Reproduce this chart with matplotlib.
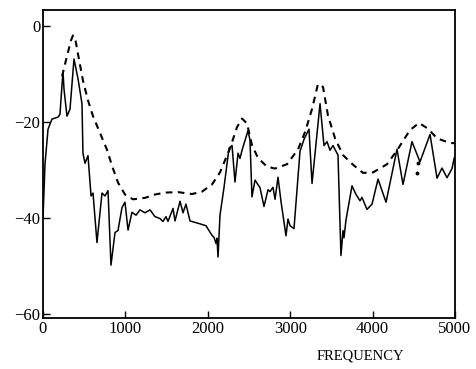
import numpy as np
import matplotlib
matplotlib.use("Agg")
import matplotlib.pyplot as plt

# ---------- data ----------
# measured response (solid)
freq_meas = [0, 24, 61, 109, 182, 206, 231, 243, 255, 291, 328, 376, 425, 473,
             485, 510, 546, 583, 607, 655, 716, 752, 789, 825, 874, 910, 959,
             995, 1032, 1080, 1129, 1177, 1238, 1299, 1359, 1420, 1456, 1493,
             1517, 1578, 1602, 1663, 1699, 1735, 1784, 1905, 1978, 2051, 2075,
             2100, 2112, 2124, 2148, 2197, 2257, 2294, 2330, 2367, 2391, 2415,
             2488, 2512, 2536, 2573, 2634, 2682, 2731, 2755, 2791, 2816, 2852,
             2888, 2949, 2973, 2998, 3046, 3119, 3168, 3228, 3265, 3362, 3410,
             3447, 3483, 3519, 3580, 3616, 3641, 3653, 3677, 3750, 3799, 3847,
             3871, 3932, 3993, 4066, 4163, 4296, 4369, 4478, 4575, 4697, 4782,
             4842, 4903, 4964, 4990]
db_meas = [-40.0, -28.8, -21.5, -19.4, -19.0, -18.4, -12.2, -9.7, -13.2, -18.8,
           -17.3, -6.9, -11.0, -16.2, -26.5, -28.6, -27.0, -35.4, -34.8, -45.1,
           -34.8, -35.4, -34.3, -49.8, -43.0, -42.6, -37.8, -36.7, -42.5, -38.8,
           -39.4, -38.3, -38.9, -38.3, -39.7, -40.1, -40.7, -39.7, -40.7, -38.0,
           -40.6, -36.5, -38.9, -37.1, -40.6, -41.2, -41.6, -43.6, -44.0, -45.3,
           -44.2, -48.1, -39.4, -33.6, -25.5, -24.9, -32.5, -26.5, -27.6, -25.9,
           -21.8, -23.8, -35.6, -32.1, -33.7, -37.6, -34.1, -34.5, -33.6, -36.1,
           -31.5, -36.5, -43.7, -40.2, -41.6, -42.2, -26.1, -23.6, -21.5, -32.8,
           -16.2, -24.9, -24.1, -25.9, -24.9, -26.9, -47.8, -42.6, -44.1, -40.4,
           -33.3, -35.1, -36.4, -35.7, -38.2, -37.1, -31.9, -36.7, -25.7, -33.0,
           -24.1, -28.3, -22.6, -31.7, -29.6, -31.6, -29.7, -27.5]

# computed envelope (dashed)
freq_calc = [231, 291, 340, 364, 388, 425, 485, 546, 607, 692, 777, 837, 910,
             995, 1092, 1238, 1359, 1481, 1638, 1808, 1930, 2051, 2148, 2269,
             2354, 2415, 2476, 2536, 2609, 2718, 2816, 2961, 3095, 3180, 3265,
             3337, 3398, 3459, 3544, 3641, 3762, 3884, 4005, 4175, 4296, 4454,
             4563, 4672, 4782, 4939, 5000]
db_calc = [-10.5, -6.3, -3.0, -2.0, -2.4, -5.9, -11.4, -15.5, -18.8, -22.3,
           -25.8, -29.1, -32.6, -35.1, -36.1, -35.8, -35.1, -34.7, -34.6, -35.0,
           -34.5, -33.0, -30.5, -25.5, -21.1, -19.3, -20.3, -24.8, -27.5, -29.3,
           -29.7, -28.8, -25.7, -22.1, -17.3, -12.1, -12.7, -18.7, -23.4, -26.9,
           -28.9, -30.6, -30.5, -28.8, -25.9, -21.7, -20.2, -21.4, -23.4, -24.4,
           -24.4]

# two stray marks near 4500
freq_marks = [4550, 4540]
db_marks = [-28.6, -30.6]

x_ticks = [0, 1000, 2000, 3000, 4000, 5000]
y_ticks = [0, -20, -40, -60]

# ---------- figure ----------
plt.rcParams["font.family"] = ["Liberation Serif", "DejaVu Serif"]

fig = plt.figure(figsize=(4.77, 3.69), dpi=100)
ax = fig.add_axes([43 / 477, 1 - 318 / 369, 412 / 477, 308 / 369])

ax.plot(freq_meas, db_meas, color="black", lw=1.1, solid_joinstyle="round")
ax.plot(freq_calc, db_calc, color="black", lw=1.5, dashes=(3.2, 2.6))
ax.plot(freq_marks, db_marks, ls="none", marker="o", ms=1.8, color="black")

ax.set_xlim(0, 5000)
ax.set_ylim(-60.8, 3.3)
ax.set_xticks(x_ticks)
ax.set_xticklabels([str(t) for t in x_ticks])
ax.set_yticks(y_ticks)
ax.set_yticklabels(["0", "\u221220", "\u221240", "\u221260"])

ax.tick_params(direction="in", length=5, width=1.0, labelsize=12, pad=2,
               top=False, right=False)
for s in ax.spines.values():
    s.set_linewidth(1.3)

fig.text(360 / 477, 1 - 356 / 369, "FREQUENCY", ha="center", va="center",
         fontsize=10.5)

fig.savefig("out.png", dpi=100)
